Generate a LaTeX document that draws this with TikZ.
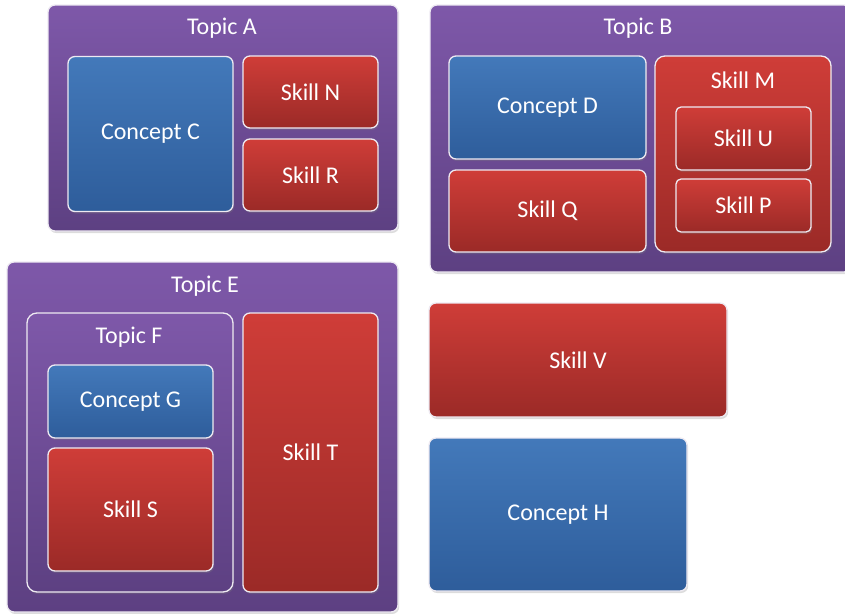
\documentclass[tikz,border=0pt]{standalone}
\usepackage{fontspec}
\setmainfont{Carlito}
\usetikzlibrary{shadows}
\definecolor{topicTop}{HTML}{7E58A9}
\definecolor{topicBot}{HTML}{5D4082}
\definecolor{conceptTop}{HTML}{4379BA}
\definecolor{conceptBot}{HTML}{2E5D9B}
\definecolor{skillTop}{HTML}{CF3D38}
\definecolor{skillBot}{HTML}{9B2A27}
\definecolor{rim}{HTML}{EEEAF2}
\tikzset{
  box/.style={rectangle, rounded corners=7pt, inner sep=0pt, draw=rim, line width=1.3pt,
    text=white, font=\fontsize{24}{28}\selectfont,
    drop shadow={opacity=0.28, shadow xshift=1.2pt, shadow yshift=-2pt}},
  topicbox/.style={box, top color=topicTop, bottom color=topicBot},
  conceptbox/.style={box, top color=conceptTop, bottom color=conceptBot},
  skillbox/.style={box, top color=skillTop, bottom color=skillBot},
  caption/.style={text=white, font=\fontsize{24}{28}\selectfont, inner sep=0pt}
}
\begin{document}
\begin{tikzpicture}[x=1pt, y=-1pt]
\useasboundingbox (0,0) rectangle (845,613);
\begin{scope}
\clip (0,0) rectangle (845,613);

% Topic A
\node[topicbox, minimum width=350pt, minimum height=226pt] (topicA) at (223,118) {};
\node[caption] (topicAt) at (222,28) {Topic A};
\node[conceptbox, minimum width=165pt, minimum height=155pt] (conceptC) at (150.5,134) {Concept C};
\node[skillbox, minimum width=135pt, minimum height=72pt] (skillN) at (310.5,92) {Skill N};
\node[skillbox, minimum width=135pt, minimum height=72pt] (skillR) at (310.5,175) {Skill R};

% Topic B
\node[topicbox, minimum width=421pt, minimum height=267pt] (topicB) at (640.5,138.5) {};
\node[caption] (topicBt) at (638,28) {Topic B};
\node[conceptbox, minimum width=197pt, minimum height=103pt] (conceptD) at (547.5,107.5) {Concept D};
\node[skillbox, minimum width=197pt, minimum height=82pt] (skillQ) at (547.5,211) {Skill Q};
\node[skillbox, rounded corners=10pt, minimum width=176pt, minimum height=196pt] (skillM) at (743,154) {};
\node[caption] (skillMt) at (743,80) {Skill M};
\node[skillbox, rounded corners=5pt, minimum width=135pt, minimum height=63pt] (skillU) at (743.5,138.5) {Skill U};
\node[skillbox, rounded corners=5pt, minimum width=135pt, minimum height=53pt] (skillP) at (743.5,205.5) {Skill P};

% Topic E
\node[topicbox, minimum width=391pt, minimum height=350pt] (topicE) at (202.5,437) {};
\node[caption] (topicEt) at (205,286) {Topic E};
\node[topicbox, rounded corners=10pt, minimum width=206pt, minimum height=279pt] (topicF) at (130,452.5) {};
\node[caption] (topicFt) at (129,337) {Topic F};
\node[conceptbox, minimum width=165pt, minimum height=73pt] (conceptG) at (130.5,401.5) {Concept G};
\node[skillbox, minimum width=165pt, minimum height=123pt] (skillS) at (130.5,509.5) {Skill S};
\node[skillbox, minimum width=135pt, minimum height=279pt] (skillT) at (310.5,452.5) {Skill T};

% Free-standing items
\node[skillbox, minimum width=298pt, minimum height=114pt] (skillV) at (578,360) {Skill V};
\node[conceptbox, minimum width=258pt, minimum height=153pt] (conceptH) at (558,514.5) {Concept H};
\end{scope}
\end{tikzpicture}
\end{document}
